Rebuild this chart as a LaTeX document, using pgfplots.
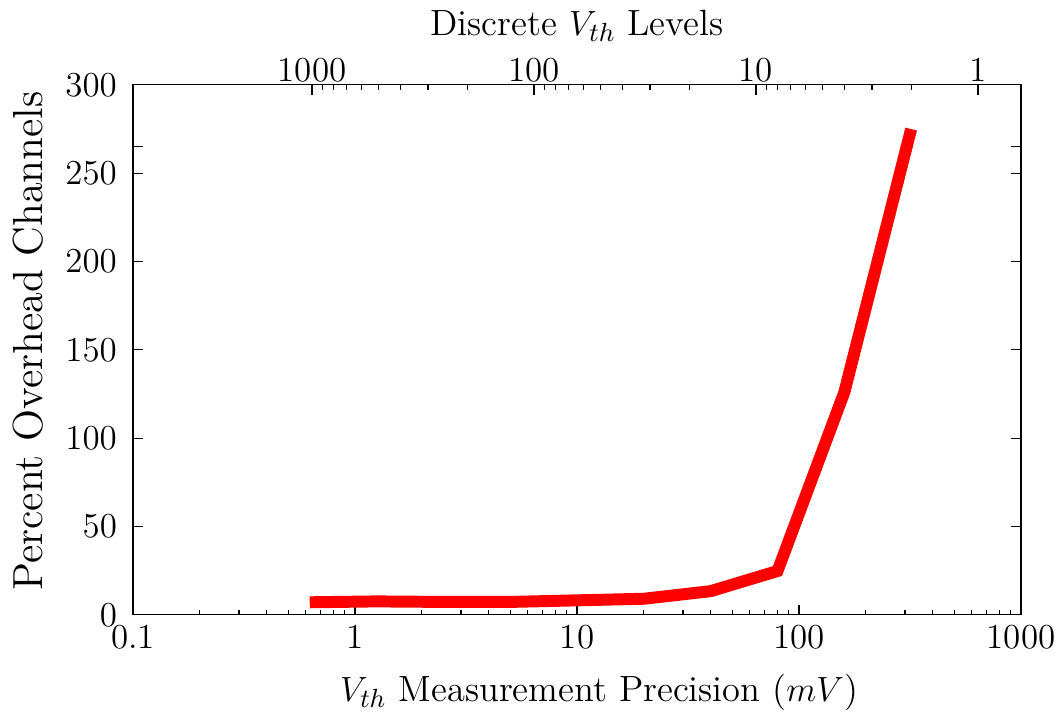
\documentclass[border=0pt]{standalone}
\usepackage{fontspec}
\usepackage{pgfplots}
\pgfplotsset{compat=1.18}

\newcommand{\labelfont}{\fontsize{12.5pt}{15pt}\selectfont}

\begin{document}
\begin{tikzpicture}
\begin{axis}[
    name=main,
    scale only axis,
    width=304.3pt, height=181.6pt,
    xmode=log,
    xmin=0.1, xmax=1000,
    ymin=0, ymax=300,
    xtick={0.1,1,10,100,1000},
    xticklabels={0.1,1,10,100,1000},
    ytick={0,50,100,150,200,250,300},
    extra y ticks={265},
    extra y tick labels={},
    extra y tick style={ytick pos=both},
    xtick pos=bottom,
    ytick pos=both,
    tick align=inside,
    major tick length=3.5pt,
    minor tick length=1.7pt,
    minor y tick num=0,
    ticklabel style={font=\large},
    yticklabel style={xshift=-2pt},
    xlabel={$V_{th}$ Measurement Precision ($mV$)},
    ylabel={Percent Overhead Channels},
    xlabel style={font=\labelfont, at={(axis description cs:0.5247,-0.164)}, anchor=base},
    ylabel style={font=\Large, at={(axis description cs:-0.1025,0.5165)}, anchor=base},
    tick style={black, thin},
    axis line style={black},
]
\addplot[red, line width=4.1pt] coordinates {
    (0.625, 7.1)
    (1.25,  7.6)
    (2.5,   7.3)
    (5,     7.3)
    (10,    8.2)
    (20,    9.1)
    (40,   13.4)
    (80,   24.8)
    (160, 126)
    (320, 275)
};
\end{axis}
\begin{axis}[
    scale only axis,
    width=304.3pt, height=181.6pt,
    xmode=log,
    x dir=reverse,
    xmin=0.64, xmax=6400,
    ymin=0, ymax=300,
    axis x line*=top,
    hide y axis,
    x axis line style={-},
    tick align=inside,
    major tick length=3.5pt,
    minor tick length=1.7pt,
    xtick={1,10,100,1000},
    xticklabels={1,10,100,1000},
    ticklabel style={font=\large},
    xticklabel style={yshift=-2.5pt},
    xlabel={Discrete $V_{th}$ Levels},
    xlabel style={font=\labelfont, at={(axis description cs:0.5,1.0936)}, anchor=base},
    tick style={black, thin},
]
\end{axis}
\pgfresetboundingbox
\path[use as bounding box]
    ([xshift=-45.6pt, yshift=-34.6pt]main.south west)
    rectangle ([xshift=11.65pt, yshift=29.1pt]main.north east);
\end{tikzpicture}
\end{document}
